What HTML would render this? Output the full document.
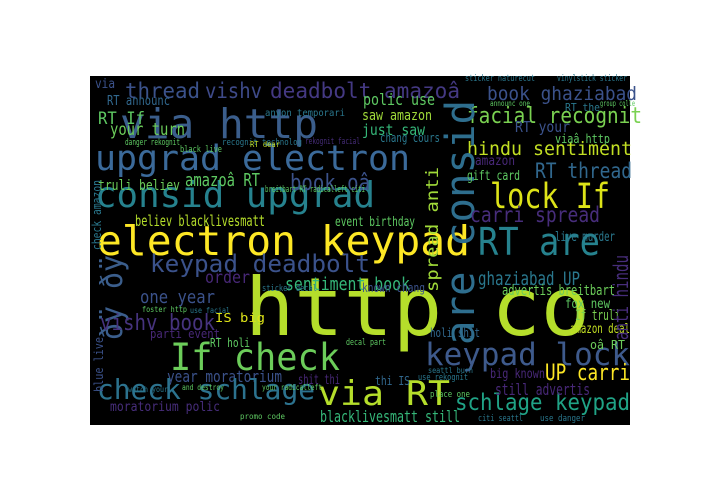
<!DOCTYPE html>
<html><head><meta charset="utf-8"><style>
html,body{margin:0;padding:0;background:#fff;width:720px;height:504px;overflow:hidden}
svg text{font-family:"DejaVu Sans Mono","Liberation Mono",monospace}
</style></head><body>
<svg id="cloud" width="720" height="504">
<rect x="90" y="76" width="540" height="349" fill="#000"/>
<g id="words"></g>
</svg>
<script>
// words: [text, x, baselineY, width, fontSize, color, vertical]
const words = [
["http co",245,335,345,80,"#b5de2b",0],
["upgrad electron",95,170,315,35,"#3b6a9a",0],
["consid upgrad",95,207,280,36,"#26828e",0],
["electron keypad",97,255,373,41,"#fde725",0],
["via http",120,138,198,41,"#3b5e8c",0],
["thread",125,98,75,21,"#3b528b",0],
["vishv",205,98,57,21,"#3e4a89",0],
["deadbolt amazoâ",270,98,190,21,"#443983",0],
["RT If",98,124,47,17,"#5ec962",0],
["RT announc",107,105,63,13,"#31688e",0],
["via",95,88,20,13,"#3b528b",0],
["your turn",110,135,75,17,"#6ccd5a",0],
["facial recognit",467,123,175,22,"#7ad151",0],
["book ghaziabad",487,100,150,19,"#3b528b",0],
["polic use",363,105,72,16,"#5ec962",0],
["saw amazon",362,120,70,14,"#a0da39",0],
["just saw",362,135,63,15,"#35b779",0],
["chang cours",380,142,60,12,"#2a788e",0],
["RT your",515,132,55,15,"#3b528b",0],
["hindu sentiment",467,155,165,19,"#c2df23",0],
["RT thread",535,178,97,21,"#31688e",0],
["lock If",490,208,120,35,"#dde318",0],
["are consid",474,345,245,40,"#2e6e8e",1],
["RT are",478,255,122,38,"#26828e",0],
["carri spread",470,222,130,21,"#472d7b",0],
["amazon",475,165,40,13,"#482878",0],
["gift card",467,180,53,13,"#5ec962",0],
["spread anti",438,292,125,17,"#a0da39",1],
["amazoâ RT",185,186,75,18,"#5ec962",0],
["book oâ",290,190,80,22,"#3b528b",0],
["truli believ",98,190,82,14,"#6ccd5a",0],
["believ blacklivesmatt",135,226,130,15,"#b5de2b",0],
["event birthday",335,226,80,13,"#5ec962",0],
["keypad deadbolt",150,272,220,24,"#3b528b",0],
["ðÿ ðÿ",122,340,85,30,"#3b5e8c",1],
["sentiment book",285,290,125,18,"#35b779",0],
["order",205,283,45,17,"#482878",0],
["one year",140,303,75,18,"#3b528b",0],
["vishv book",100,330,115,22,"#46337e",0],
["IS big",215,322,50,12,"#dde318",0],
["parti event",150,338,70,12,"#482878",0],
["RT holi",210,347,40,12,"#5ec962",0],
["If check",170,370,170,37,"#6ccd5a",0],
["year moratorium",167,382,115,16,"#3b528b",0],
["shit thi",298,384,42,13,"#482878",0],
["check schlage",97,399,218,28,"#2c728e",0],
["moratorium polic",110,411,110,13,"#472d7b",0],
["blacklivesmatt still",320,422,140,16,"#35b779",0],
["via RT",318,405,132,34,"#b5de2b",0],
["schlage keypad",455,410,175,23,"#20a386",0],
["keypad lock",425,365,205,31,"#3e5a8c",0],
["UP carri",545,380,85,22,"#fde725",0],
["still advertis",495,395,95,16,"#482878",0],
["big known",490,378,55,13,"#482878",0],
["thi IS",375,385,35,12,"#31688e",0],
["ghaziabad UP",478,285,102,19,"#2a788e",0],
["advertis breitbart",502,295,113,14,"#6ccd5a",0],
["fox new",565,308,45,13,"#5ec962",0],
["If truli",575,320,45,14,"#7ad151",0],
["amazon deal",570,333,60,13,"#c2df23",0],
["oâ RT",590,349,35,12,"#6ccd5a",0],
["holi shit",430,337,50,12,"#31688e",0],
["known chang",362,292,63,12,"#3b528b",0],
["anti hindu",628,340,85,20,"#472d7b",1],
["blue live",103,392,55,12,"#3b528b",1],
["check amazon",101,250,70,12,"#2a788e",1],
["anyon temporari",265,116,80,10,"#2a788e",0],
["recognit technolog",222,145,80,9,"#2a788e",0],
["rekognit facial",305,144,55,9,"#472d7b",0],
["danger rekognit",125,145,55,9,"#5ec962",0],
["black live",180,152,42,9,"#5ec962",0],
["breitbart RT radicalleft citi",265,192,100,9,"#5ec962",0],
["RT dear",250,147,30,8,"#c2df23",0],
["sticker naturecut",465,81,70,9,"#2a788e",0],
["vinylstick sticker",557,81,70,9,"#2a788e",0],
["group colle",600,106,35,8,"#5ec962",0],
["RT the",565,111,35,11,"#2a788e",0],
["announc one",490,106,40,8,"#5ec962",0],
["viaâ http",555,143,55,12,"#5ec962",0],
["live murder",555,241,60,13,"#2a788e",0],
["sticker decal",262,291,55,9,"#2a788e",0],
["decal part",346,345,40,9,"#5ec962",0],
["promo code",240,419,45,8,"#5ec962",0],
["citi seattl",478,421,45,9,"#2a788e",0],
["use danger",540,421,45,9,"#2a788e",0],
["use rekognit",418,380,50,9,"#2a788e",0],
["place one",430,397,40,9,"#5ec962",0],
["seattl burn",428,373,45,8,"#2a788e",0],
["watch your",128,392,40,8,"#2a788e",0],
["and destroy",182,390,42,8,"#5ec962",0],
["your radicalleft",262,390,60,8,"#5ec962",0],
["foster http",142,312,45,8,"#5ec962",0],
["use facial",190,313,40,8,"#2a788e",0]
];
const g = document.getElementById('words');
const NS = 'http://www.w3.org/2000/svg';
words.forEach(function(w, i){
  const t = document.createElementNS(NS,'text');
  
  
  t.setAttribute('x', w[1]);
  t.setAttribute('y', w[2]);
  t.setAttribute('font-size', w[4]);
  t.setAttribute('fill', w[5]);
  t.setAttribute('textLength', w[3]);
  t.setAttribute('lengthAdjust', 'spacingAndGlyphs');
  if (w[6]) t.setAttribute('transform', 'rotate(-90 ' + w[1] + ' ' + w[2] + ')');
  t.textContent = w[0];
  g.appendChild(t);
});
</script>
</body></html>
